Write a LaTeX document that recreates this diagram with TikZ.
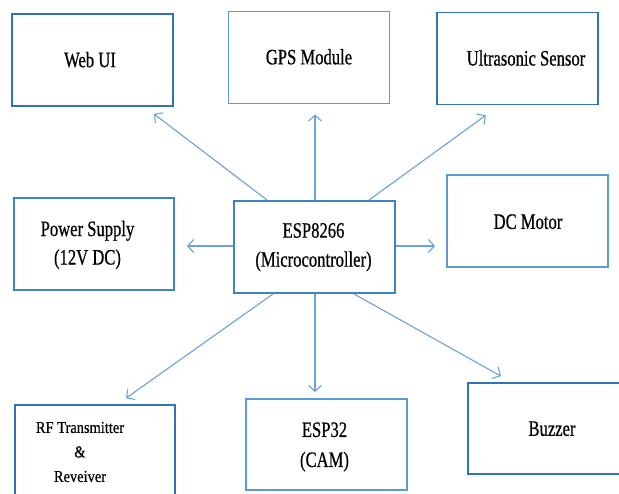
\documentclass[tikz,border=0pt]{standalone}
\usepackage{fontspec}
\setmainfont{Liberation Serif}[FakeStretch=0.755,FakeBold=0.6]
\newfontfamily\rffont{Liberation Serif}[FakeStretch=0.87,FakeBold=0.6]
\usetikzlibrary{arrows.meta}
\definecolor{dkblue}{HTML}{2F73B8}
\definecolor{ltblue}{HTML}{5B9BD5}
\definecolor{mdblue}{HTML}{3F83C6}
\definecolor{arrblue}{HTML}{6AA3DA}
\tikzset{
  box/.style={draw=#1, line width=1.8pt, inner sep=0pt, minimum width=161pt, minimum height=92pt},
  lbl/.style={font=\fontsize{22}{29}\selectfont, align=center, inner sep=0pt, text=black},
  rflbl/.style={font=\rffont\fontsize{16.6}{24.5}\selectfont, align=center, inner sep=0pt, text=black},
  arr/.style={draw=arrblue, line width=1.1pt, -{Straight Barb[length=6pt,width=13pt]}},
}
\begin{document}
\begin{tikzpicture}[x=1pt,y=-1pt]
\useasboundingbox (0,0) rectangle (619,494);
\fill[white] (0,0) rectangle (619,494);
% boxes
\node[box=dkblue] (web) at (92.5,60) {};
\node[box=ltblue] (gps) at (309,57.5) {};
\node[box=dkblue] (ultra) at (517.5,58.5) {};
\node[box=ltblue] (dc) at (527.5,221) {};
\node[box=mdblue, minimum width=160pt] (power) at (94,244) {};
\node[box=mdblue] (esp) at (314.5,247) {};
\node[box=dkblue, minimum width=160pt, minimum height=94pt] (rf) at (95,452) {};
\node[box=ltblue, minimum height=91pt] (esp32) at (326.5,444.5) {};
\node[box=dkblue, minimum width=156pt, minimum height=91pt] (buzzer) at (546,428.5) {};
% labels
\node[lbl] (webL) at (90,59.7) {Web UI};
\node[lbl] (gpsL) at (309,56.8) {GPS Module};
\node[lbl] (ultraL) at (526,58) {Ultrasonic Sensor};
\node[lbl] (dcL) at (528,221.7) {DC Motor};
\node[lbl, font=\fontsize{22}{28.5}\selectfont] (powerL) at (87.5,245) {Power Supply\\(12V DC)};
\node[lbl] (espL) at (313.5,247.2) {ESP8266\\(Microcontroller)};
\node[lbl, font=\fontsize{22}{30}\selectfont] (esp32L) at (324.5,447) {ESP32\\(CAM)};
\node[lbl] (buzzerL) at (552,428.7) {Buzzer};
\node[rflbl] (rfL) at (80,452) {RF Transmitter\\\&\\Reveiver};
% connectors
\draw[arr, shorten >=11.6pt] ([xshift=34pt]esp.north west) -- ([xshift=52.2pt]web.south);
\draw[arr, shorten >=10pt] ([xshift=0.5pt]esp.north) -- ([xshift=6pt]gps.south);
\draw[arr, shorten >=16.9pt] ([xshift=-27pt]esp.north east) -- ([xshift=-18pt]ultra.south);
\draw[arr, shorten >=12pt] ([yshift=1pt]esp.west) -- ([yshift=-2pt]power.east);
\draw[arr, shorten >=11pt] ([yshift=1pt]esp.east) -- ([yshift=-25pt]dc.west);
\draw[arr, shorten >=10.3pt] ([xshift=40pt]esp.south west) -- ([xshift=22.6pt]rf.north);
\draw[arr, shorten >=6pt] ([xshift=0.5pt]esp.south) -- ([xshift=-11.5pt]esp32.north);
\draw[arr, shorten >=12.2pt] ([xshift=-42pt]esp.south east) -- ([xshift=-34.4pt]buzzer.north);
\end{tikzpicture}
\end{document}
